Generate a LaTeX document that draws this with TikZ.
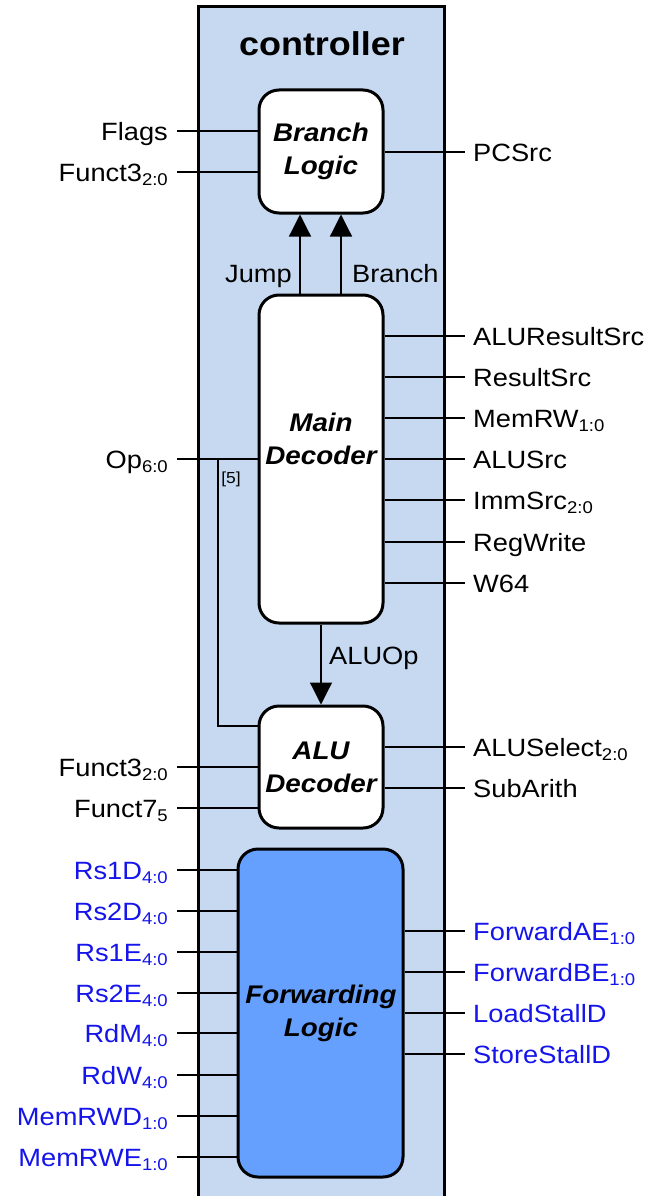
\documentclass[tikz,border=0pt]{standalone}
\usepackage{fontspec}
\setmainfont{Liberation Sans}[FakeStretch=1.09]
\usetikzlibrary{arrows.meta}
\definecolor{ctrlfill}{RGB}{198,217,241}
\definecolor{fwdfill}{RGB}{102,160,255}
\definecolor{sigblue}{RGB}{20,20,235}
% lowered index for bus widths
\newcommand\lowidx[1]{\raisebox{-4.5pt}{\fontsize{17}{17}\selectfont #1}}

\begin{document}
\begin{tikzpicture}[x=1pt,y=-1pt,
  lbl/.style={font=\fontsize{25}{30}\selectfont, inner sep=0pt},
  lblL/.style={lbl, anchor=base east, xshift=-9pt, yshift=-9pt},
  lblR/.style={lbl, anchor=base west, xshift=8pt, yshift=-9pt},
  blk/.style={draw, line width=3pt, rounded corners=20pt, fill=white,
              minimum width=124pt, inner sep=0pt},
  blktxt/.style={font=\fontsize{25.5}{33}\selectfont\bfseries\itshape,
                 align=center, inner sep=0pt},
  thk/.style={line width=2.6pt},
  thn/.style={line width=1.2pt},
  arr/.style={thn, -{Triangle[length=22pt,width=22pt]}},
]
\useasboundingbox (0,0) rectangle (647,1196);

% controller enclosure (open at the bottom)
\fill[ctrlfill] (198,7) rectangle (444,1200);
\draw[line width=3pt] (198,1200) -- (198,7) -- (444,7) -- (444,1200);
\node[font=\fontsize{33}{36}\selectfont\bfseries, inner sep=0pt] (title) at (322,43.5) {controller};

% functional blocks
\node[blk, minimum height=123pt] (branch) at (321,151.5) {};
\node[blktxt] (branchtxt) at (321,151) {Branch\\Logic};

\node[blk, minimum height=328pt] (main) at (321,459) {};
\node[blktxt] (maintxt) at (321,439) {Main\\Decoder};

\node[blk, minimum height=122pt] (alu) at (321,767) {};
\node[blktxt] (alutxt) at (321,767) {ALU\\Decoder};

\node[blk, fill=fwdfill, minimum width=165pt, minimum height=328pt] (fwd) at (320.5,1013) {};
\node[blktxt] (fwdtxt) at (321,1013) {Forwarding\\Logic};

% Branch Logic inputs and output
\coordinate (flags) at (177,131);
\draw[thk] (flags) -- (flags -| branch.west);
\node[lblL] (flagslbl) at (flags) {Flags};
\coordinate (f3a) at (177,172);
\draw[thk] (f3a) -- (f3a -| branch.west);
\node[lblL] (f3albl) at (f3a) {Funct3\lowidx{2:0}};
\coordinate (pcsrc) at (465,152);
\draw[thn] (branch.east |- pcsrc) -- (pcsrc);
\node[lblR] (pcsrclbl) at (pcsrc) {PCSrc};

% Jump / Branch from the main decoder
\draw[arr] ([xshift=-21pt]main.north) -- ([xshift=-21pt]branch.south);
\draw[arr] ([xshift=20pt]main.north) -- ([xshift=20pt]branch.south);
\node[lbl, anchor=base east] (jumplbl) at (292,282) {Jump};
\node[lbl, anchor=base west] (brlbl) at (352,282) {Branch};

% Main decoder outputs
\foreach \yy/\txt/\st [count=\i] in {
    336/ALUResultSrc/thn,
    377/ResultSrc/thn,
    418/MemRW\lowidx{1:0}/thk,
    459/ALUSrc/thn,
    500/ImmSrc\lowidx{2:0}/thk,
    542/RegWrite/thn,
    583/W64/thn}{
  \coordinate (mo\i) at (465,\yy);
  \draw[\st] (main.east |- mo\i) -- (mo\i);
  \node[lblR] (mol\i) at (mo\i) {\txt};
}

% opcode input and bit 5 tap to the ALU decoder
\coordinate (op) at (177,459);
\coordinate (tap) at (218,459);
\draw[thk] (op) -- (op -| main.west);
\node[lblL] (oplbl) at (op) {Op\lowidx{6:0}};
\draw[thn] (tap) |- ([yshift=41pt]alu.west);
\node[font=\fontsize{16}{18}\selectfont, inner sep=0pt] (b5) at (231,479) {[5]};

% ALUOp
\draw[arr] (main.south) -- (alu.north);
\node[lbl, anchor=base west] (aluoplbl) at (329,664) {ALUOp};

% ALU decoder inputs and outputs
\coordinate (f3b) at (177,767);
\draw[thk] (f3b) -- (f3b -| alu.west);
\node[lblL] (f3blbl) at (f3b) {Funct3\lowidx{2:0}};
\coordinate (f7) at (177,808);
\draw[thn] (f7) -- (f7 -| alu.west);
\node[lblL] (f7lbl) at (f7) {Funct7\lowidx{5}};
\coordinate (alusel) at (465,747);
\draw[thk] (alu.east |- alusel) -- (alusel);
\node[lblR] (alusellbl) at (alusel) {ALUSelect\lowidx{2:0}};
\coordinate (subar) at (465,788);
\draw[thn] (alu.east |- subar) -- (subar);
\node[lblR] (subarlbl) at (subar) {SubArith};

% Forwarding logic inputs
\foreach \yy/\txt [count=\i] in {
    870/Rs1D\lowidx{4:0},
    911/Rs2D\lowidx{4:0},
    952/Rs1E\lowidx{4:0},
    993/Rs2E\lowidx{4:0},
    1033/RdM\lowidx{4:0},
    1075/RdW\lowidx{4:0},
    1116/MemRWD\lowidx{1:0},
    1157/MemRWE\lowidx{1:0}}{
  \coordinate (fi\i) at (177,\yy);
  \draw[thk] (fi\i) -- (fi\i -| fwd.west);
  \node[lblL, text=sigblue] (fil\i) at (fi\i) {\txt};
}

% Forwarding logic outputs
\foreach \yy/\txt [count=\i] in {
    931/ForwardAE\lowidx{1:0},
    972/ForwardBE\lowidx{1:0},
    1013/LoadStallD,
    1054/StoreStallD}{
  \coordinate (fo\i) at (465,\yy);
  \draw[thk] (fwd.east |- fo\i) -- (fo\i);
  \node[lblR, text=sigblue] (fol\i) at (fo\i) {\txt};
}
\end{tikzpicture}
\end{document}
